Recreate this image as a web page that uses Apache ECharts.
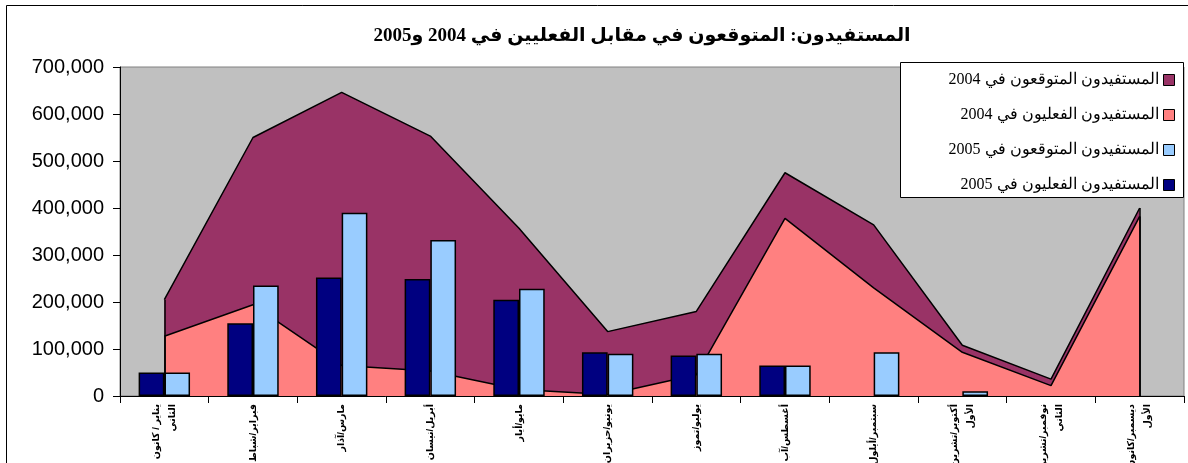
<!DOCTYPE html>
<html>
<head>
<meta charset="utf-8">
<script src="https://cdn.jsdelivr.net/npm/echarts@6/dist/echarts.min.js"></script>
<style>
html,body{margin:0;padding:0;background:#fff;}
#chart{width:1188px;height:463px;}
</style>
</head>
<body>
<div id="chart" dir="rtl"></div>
<script>
// ---- data ----
const months = [
  'يناير / كانون\nالثاني', 'فبراير/شباط', 'مارس/آذار', 'أبريل/نيسان', 'مايو/أيار', 'يونيو/حزيران',
  'يوليو/تموز', 'أغسطس/آب', 'سبتمبر/أيلول', 'أكتوبر/تشرين\nالأول', 'نوفمبر/تشرين\nالثاني', 'ديسمبر/كانون\nالأول'
];
const seriesNames = [
  'المستفيدون المتوقعون في 2004',
  'المستفيدون الفعليون في 2004',
  'المستفيدون المتوقعون في 2005',
  'المستفيدون الفعليون في 2005'
];
const expected2004 = [205000, 550000, 646000, 553000, 357000, 137000, 180000, 475000, 364000, 108000, 36000, 400000];
const actual2004   = [127000, 194000, 65000, 53000, 14000, 3000, 45000, 378000, 230000, 93000, 22000, 382000];
const expected2005 = [50000, 235000, 390000, 332000, 228000, 90000, 90000, 65000, 93000, 10000, null, null];
const actual2005   = [50000, 155000, 252000, 249000, 205000, 93000, 86000, 65000, null, null, null, null];
const yTicks = [0, 100000, 200000, 300000, 400000, 500000, 600000, 700000];
const titleText = 'المستفيدون: المتوقعون في مقابل الفعليين في 2004 و2005';

const colors = {exp04: '#993366', act04: '#FF8080', exp05: '#99CCFF', act05: '#000080'};

// two-line labels sit a little left of the tick, as in the original
const xData = months.map(m => m.indexOf('\n') >= 0 ? {value: m, textStyle: {padding: [0, 0, 16, 0]}} : m);

function edgeLines(arr) {
  const last = arr.length - 1;
  return [
    [{coord: [0, 0]}, {coord: [0, arr[0]]}],
    [{coord: [last, 0]}, {coord: [last, arr[last]]}]
  ];
}

const chart = echarts.init(document.getElementById('chart'), null, {renderer: 'canvas'});
const option = {
  animation: false,
  backgroundColor: '#ffffff',
  title: {
    text: titleText,
    left: 637,
    top: 22,
    textAlign: 'center',
    textStyle: {fontFamily: 'Liberation Serif, DejaVu Sans', fontWeight: 'bold', fontSize: 19, color: '#000'}
  },
  graphic: [
    {type: 'rect', z: 0, shape: {x: 6.5, y: 5.5, width: 1300, height: 600}, style: {fill: null, stroke: '#000', lineWidth: 1}},
    {type: 'rect', z: 5, shape: {x: 900.5, y: 62.5, width: 283, height: 135}, style: {fill: '#fff', stroke: '#000', lineWidth: 1}}
  ],
  legend: {
    z: 6,
    orient: 'vertical',
    align: 'right',
    right: 13,
    top: 70,
    padding: 0,
    itemGap: 15,
    itemWidth: 11,
    itemHeight: 11,
    icon: 'rect',
    itemStyle: {borderColor: '#000', borderWidth: 1},
    textStyle: {fontFamily: 'Liberation Serif, DejaVu Serif', fontSize: 16, color: '#000', lineHeight: 20},
    data: seriesNames
  },
  grid: {
    left: 120, right: 4, top: 67, bottom: 67,
    outerBoundsMode: 'none', containLabel: false,
    show: true, backgroundColor: '#C0C0C0', borderColor: '#808080', borderWidth: 1
  },
  xAxis: {
    type: 'category',
    data: xData,
    boundaryGap: true,
    axisLine: {lineStyle: {color: '#000', width: 1}},
    axisTick: {show: true, alignWithLabel: false, length: 7, lineStyle: {color: '#000'}},
    axisLabel: {
      interval: 0, rotate: 90, margin: 8, hideOverlap: false,
      fontFamily: 'Liberation Sans, DejaVu Sans', fontSize: 9.5, fontWeight: 'bold', color: '#000', lineHeight: 16
    },
    splitLine: {show: false}
  },
  yAxis: {
    type: 'value',
    min: yTicks[0], max: yTicks[yTicks.length - 1], interval: yTicks[1] - yTicks[0],
    axisLine: {show: true, lineStyle: {color: '#000', width: 1}},
    axisTick: {show: true, length: 7, lineStyle: {color: '#000'}},
    axisLabel: {
      margin: 16, fontFamily: 'Liberation Sans, Arial', fontSize: 20, color: '#000',
      formatter: v => v.toLocaleString('en-US')
    },
    splitLine: {show: false}
  },
  series: [
    {
      name: seriesNames[0], type: 'line', z: 1, data: expected2004,
      showSymbol: false, symbol: 'none',
      itemStyle: {color: colors.exp04},
      lineStyle: {color: '#000', width: 1.5},
      areaStyle: {color: colors.exp04, opacity: 1},
      markLine: {silent: true, symbol: 'none', label: {show: false}, lineStyle: {color: '#000', width: 1.5, type: 'solid'}, data: edgeLines(expected2004)}
    },
    {
      name: seriesNames[1], type: 'line', z: 2, data: actual2004,
      showSymbol: false, symbol: 'none',
      itemStyle: {color: colors.act04},
      lineStyle: {color: '#000', width: 1.5},
      areaStyle: {color: colors.act04, opacity: 1},
      markLine: {silent: true, symbol: 'none', label: {show: false}, lineStyle: {color: '#000', width: 1.5, type: 'solid'}, data: edgeLines(actual2004)}
    },
    {
      name: seriesNames[3], type: 'bar', z: 3, data: actual2005,
      barGap: '0%', barCategoryGap: '42%',
      itemStyle: {color: colors.act05, borderColor: '#000', borderWidth: 1.5}
    },
    {
      name: seriesNames[2], type: 'bar', z: 3, data: expected2005,
      barGap: '0%', barCategoryGap: '42%',
      itemStyle: {color: colors.exp05, borderColor: '#000', borderWidth: 1.5}
    }
  ]
};
chart.setOption(option);
</script>
</body>
</html>
